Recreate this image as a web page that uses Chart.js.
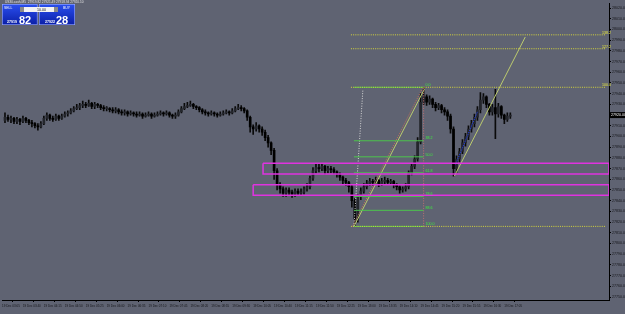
<!DOCTYPE html>
<html lang="en">
<head>
    <meta charset="UTF-8">
    <title>US30.cash, M5</title>
    <script src="https://cdn.jsdelivr.net/npm/chart.js"></script>
    <style>
        html, body { margin: 0; padding: 0; background: #5f6372; }
        body { width: 625px; height: 314px; overflow: hidden; }
        canvas { display: block; }
    </style>
</head>
<body>
<canvas id="chart" width="625" height="314"></canvas>
<script>
// ---- price data (M5 candles, index 1..170) ----
const opens = [27915,27918,27916,27917,27914,27916,27914,27917,27915,27913,
    27912,27910,27909,27912,27917,27920,27917,27916,27919,27917,
    27919,27921,27922,27924,27926,27927,27929,27930,27929,27931,
    27928,27930,27929,27927,27926,27926,27925,27924,27925,27923,
    27922,27923,27921,27922,27921,27920,27921,27919,27920,27921,
    27919,27920,27921,27922,27921,27922,27920,27919,27920,27923,
    27926,27928,27929,27930,27928,27927,27925,27923,27922,27921,
    27922,27921,27920,27921,27922,27923,27922,27924,27926,27927,
    27926,27924,27918,27909,27907,27910,27907,27904,27899,27894,
    27887,27868,27855,27851,27847,27850,27848,27846,27849,27847,
    27848,27851,27853,27861,27868,27871,27870,27872,27868,27870,
    27869,27867,27865,27862,27859,27857,27853,27840,27823,27844,
    27849,27853,27856,27858,27857,27859,27856,27858,27859,27857,
    27858,27855,27853,27850,27851,27853,27866,27872,27879,27895,
    27932,27937,27932,27935,27930,27927,27929,27925,27923,27919,
    27907,27870,27879,27886,27894,27900,27907,27912,27918,27925,
    27934,27937,27930,27923,27927,27921,27928,27920,27916,27919];
const closes = [27918,27916,27917,27914,27916,27914,27917,27915,27913,27912,
    27910,27909,27912,27917,27920,27917,27916,27919,27917,27919,
    27921,27922,27924,27926,27927,27929,27930,27929,27931,27928,
    27930,27929,27927,27926,27926,27925,27924,27925,27923,27922,
    27923,27921,27922,27921,27920,27921,27919,27920,27921,27919,
    27920,27921,27922,27921,27922,27920,27919,27920,27923,27926,
    27928,27929,27930,27928,27927,27925,27923,27922,27921,27922,
    27921,27920,27921,27922,27923,27922,27924,27926,27927,27926,
    27924,27918,27909,27907,27910,27907,27904,27899,27894,27887,
    27868,27855,27851,27847,27850,27848,27846,27849,27847,27848,
    27851,27853,27861,27868,27871,27870,27872,27868,27870,27869,
    27867,27865,27862,27859,27857,27853,27840,27823,27844,27849,
    27853,27856,27858,27857,27859,27856,27858,27859,27857,27858,
    27855,27853,27850,27851,27853,27866,27872,27879,27895,27932,
    27937,27932,27935,27930,27927,27929,27925,27923,27919,27907,
    27870,27879,27886,27894,27900,27907,27912,27918,27925,27934,
    27937,27930,27923,27927,27921,27928,27920,27916,27919,27920];
const highs = [27922,27920,27919,27918,27918,27917,27919,27918,27916,27915,
    27913,27912,27914,27919,27922,27921,27919,27921,27920,27921,
    27923,27924,27926,27928,27930,27931,27933,27932,27934,27932,
    27932,27931,27930,27929,27928,27927,27927,27927,27926,27925,
    27925,27924,27924,27923,27923,27923,27922,27922,27923,27922,
    27922,27923,27924,27923,27924,27923,27921,27922,27925,27928,
    27931,27932,27933,27931,27929,27928,27926,27925,27923,27924,
    27923,27922,27923,27924,27925,27924,27926,27928,27930,27929,
    27927,27925,27919,27911,27913,27911,27909,27906,27901,27895,
    27889,27870,27857,27853,27852,27852,27850,27851,27851,27851,
    27853,27856,27863,27871,27875,27874,27875,27873,27872,27872,
    27871,27868,27866,27863,27861,27858,27855,27842,27846,27852,
    27856,27859,27861,27860,27862,27860,27861,27862,27861,27860,
    27859,27856,27854,27853,27856,27868,27875,27882,27899,27940,
    27946,27939,27938,27936,27932,27931,27930,27927,27925,27921,
    27909,27882,27889,27897,27903,27910,27915,27921,27928,27941,
    27940,27938,27931,27930,27944,27931,27929,27921,27922,27922];
const lows = [27913,27914,27913,27912,27912,27911,27913,27913,27911,27909,
    27908,27906,27908,27911,27915,27915,27914,27915,27915,27916,
    27918,27919,27921,27923,27925,27925,27927,27927,27928,27926,
    27926,27927,27925,27924,27924,27923,27922,27922,27921,27920,
    27920,27919,27920,27919,27918,27919,27917,27918,27919,27917,
    27918,27919,27920,27919,27920,27918,27917,27917,27919,27922,
    27925,27927,27928,27926,27925,27923,27921,27920,27919,27920,
    27919,27918,27919,27920,27921,27920,27921,27923,27925,27924,
    27922,27915,27904,27902,27905,27904,27901,27896,27890,27883,
    27860,27850,27847,27844,27844,27845,27843,27844,27845,27845,
    27846,27849,27851,27859,27866,27867,27868,27865,27866,27866,
    27865,27862,27859,27856,27854,27848,27834,27816,27820,27841,
    27847,27851,27854,27854,27855,27853,27854,27856,27855,27855,
    27852,27850,27847,27848,27849,27851,27864,27870,27877,27893,
    27930,27929,27930,27927,27924,27925,27922,27920,27915,27903,
    27863,27866,27876,27884,27891,27897,27904,27909,27915,27922,
    27931,27927,27920,27920,27898,27918,27917,27912,27914,27917];

// ---- axis labels ----
const timeLabels = ['19 Dec 03:05','19 Dec 03:40','19 Dec 04:15','19 Dec 04:50','19 Dec 05:25',
    '19 Dec 06:00','19 Dec 06:35','19 Dec 07:10','19 Dec 07:45','19 Dec 08:20',
    '19 Dec 08:55','19 Dec 09:30','19 Dec 10:05','19 Dec 10:40','19 Dec 11:15',
    '19 Dec 11:50','19 Dec 12:25','19 Dec 13:00','19 Dec 13:35','19 Dec 14:10',
    '19 Dec 14:45','19 Dec 15:20','19 Dec 15:55','19 Dec 16:30','19 Dec 17:05'];
const priceTicks = [27750,27760,27770,27780,27790,27800,27810,27820,27830,27840,
    27850,27860,27870,27880,27890,27900,27910,27920,27930,27940,
    27950,27960,27970,27980,27990,28000,28010,28020];

// ---- drawn objects ----
const fiboPrices = [27946, 27896, 27881, 27866, 27844, 27831, 27816];
const fiboLabels = ['0.0', '38.2', '50.0', '61.8', '78.6', '88.6', '100.0'];
const fiboSpan = [117.7, 141];
const expansionPrices = [27995, 27982, 27946, 27816];
const expansionLabels = ['138.2', '127.2', '100.0', ''];
const expansionSpan = [116.7, 202];
const zoneStarts = [87.3, 84];
const zoneTops = [27875, 27855];
const zoneBottoms = [27865, 27845];
const channelA = [[117.7, 27816], [141.3, 27944.5]];
const channelB = [[151.3, 27863], [175, 27993]];
const fiboTrend = [[117.7, 27816], [120.7, 27944]];
const expTrend = [[117.2, 27816], [140.6, 27945]];
const fiboVertical = [[141, 27816], [141, 27946]];
const blueTrend = [[151.7, 27874], [159, 27923]];

const BG = '#5f6372';
const pts = arr => arr.map(p => ({ x: p[0], y: p[1] }));
const idx = opens.map((_, i) => i + 1);

function lineSet(data, color, dash, width) {
    return { type: 'line', data: data, borderColor: color, borderWidth: width || 1,
        borderDash: dash || [], pointRadius: 0, fill: false, order: 1 };
}

const datasets = [
    { type: 'bar', data: idx.map(i => ({ x: i, y: [lows[i - 1], highs[i - 1]] })),
      backgroundColor: '#0a0a0a', barThickness: 1, grouped: false, order: 3 },
    { type: 'bar', data: idx.map(i => ({ x: i, y: [opens[i - 1], closes[i - 1]] })),
      backgroundColor: idx.map(i => closes[i - 1] >= opens[i - 1] ? '#24262c' : '#000'),
      barThickness: 2, grouped: false, order: 2, borderSkipped: false, minBarLength: 1 }
];

zoneStarts.forEach((x0, k) => {
    datasets.push(lineSet(pts([[x0, zoneTops[k]], [203, zoneTops[k]], [203, zoneBottoms[k]],
        [x0, zoneBottoms[k]], [x0, zoneTops[k]]]), '#e033e0', [], 1.5));
});
expansionPrices.forEach(p => {
    datasets.push(lineSet(pts([[expansionSpan[0], p], [expansionSpan[1], p]]), '#d6d63c', [1, 1.2]));
});
fiboPrices.forEach(p => {
    datasets.push(lineSet(pts([[fiboSpan[0], p], [fiboSpan[1], p]]), '#4cc44c'));
});
datasets.push(lineSet(pts(fiboTrend), '#d8d8d8', [1, 1.5]));
datasets.push(lineSet(pts(fiboVertical), '#c07070', [1, 1.5]));
datasets.push(lineSet(pts(expTrend), '#c0705a', [1, 1.2]));
datasets.push(lineSet(pts(channelA), '#bccb6e'));
datasets.push(lineSet(pts(channelB), '#bccb6e'));
datasets.push(lineSet(pts(blueTrend), '#2040ff', [1, 1]));

const overlay = {
    id: 'overlay',
    afterDatasetsDraw(chart) {
        const { ctx, scales: { x, y } } = chart;
        ctx.save();
        ctx.font = '3.6px "Liberation Sans"';
        ctx.textBaseline = 'bottom';
        // fibo level labels
        ctx.fillStyle = '#3ef03e';
        ctx.textAlign = 'left';
        fiboPrices.forEach((p, k) => {
            ctx.fillText(fiboLabels[k], x.getPixelForValue(fiboSpan[1]) + 2, y.getPixelForValue(p) - 0.5);
        });
        // expansion labels
        ctx.fillStyle = '#e8e840';
        ctx.textAlign = 'right';
        expansionPrices.forEach((p, k) => {
            ctx.fillText(expansionLabels[k], x.getPixelForValue(expansionSpan[1]) + 5, y.getPixelForValue(p) - 0.3);
        });
        ctx.restore();
    },
    afterDraw(chart) {
        const { ctx, scales: { y } } = chart;
        ctx.save();
        // current price box on the axis
        const last = closes[closes.length - 1];
        const py = y.getPixelForValue(last);
        ctx.fillStyle = '#000';
        ctx.fillRect(609, py - 3, 16, 6);
        ctx.fillStyle = '#fff';
        ctx.font = '3.6px "Liberation Sans"';
        ctx.textBaseline = 'middle';
        ctx.fillText(last.toFixed(2), 611, py);

        // title line
        ctx.fillStyle = '#e4e4e4';
        ctx.font = '3.2px "Liberation Sans"';
        ctx.textBaseline = 'top';
        ctx.fillText('US30.cash,M5  27919.82 27921.49 27918.94 27920.10', 5, 0.5);

        // one-click trading panel
        const box = (x0, w) => {
            const g = ctx.createLinearGradient(0, 4, 0, 25);
            g.addColorStop(0, '#2a4ff0');
            g.addColorStop(1, '#0b1fa6');
            ctx.fillStyle = g;
            ctx.fillRect(x0, 4, w, 21);
            ctx.strokeStyle = '#9fb0ff';
            ctx.lineWidth = 0.6;
            ctx.strokeRect(x0 + 0.3, 4.3, w - 0.6, 20.4);
        };
        box(2, 35.5);
        box(39, 36);
        ctx.fillStyle = '#f2f2f2';
        ctx.fillRect(20, 7, 38, 5);
        ctx.fillStyle = '#8a8a8a';
        ctx.fillRect(20, 7, 4, 5);
        ctx.fillRect(54, 7, 4, 5);
        ctx.fillStyle = '#111';
        ctx.font = '3.6px "Liberation Sans"';
        ctx.textBaseline = 'middle';
        ctx.fillText('10.00', 37, 9.6);
        ctx.fillStyle = '#fff';
        ctx.font = '3.4px "Liberation Sans"';
        ctx.fillText('SELL', 4, 8.5);
        ctx.fillText('BUY', 63, 8.5);
        ctx.font = 'bold 3.6px "Liberation Sans"';
        ctx.textBaseline = 'alphabetic';
        ctx.fillText('27919', 7, 22.5);
        ctx.fillText('27922', 45, 22.5);
        ctx.font = 'bold 11px "Liberation Sans"';
        ctx.fillText('82', 19, 24);
        ctx.fillText('28', 56, 24);
        ctx.restore();
    }
};

new Chart(document.getElementById('chart'), {
    type: 'bar',
    data: { datasets: datasets },
    options: {
        responsive: false,
        animation: false,
        devicePixelRatio: 1,
        layout: { padding: 0 },
        plugins: { legend: { display: false }, tooltip: { enabled: false } },
        scales: {
            x: {
                type: 'linear', min: 0, max: 203, offset: false,
                grid: { display: true, drawOnChartArea: false, tickLength: 2, color: '#000' },
                border: { color: '#000' },
                afterBuildTicks: s => { s.ticks = timeLabels.map((_, k) => ({ value: k * 7 })); },
                afterFit: s => { s.height = 14; },
                ticks: {
                    autoSkip: false, maxRotation: 0, align: 'start', padding: 2,
                    color: '#15161a', font: { family: 'Liberation Sans', size: 3 },
                    callback: (v, i) => timeLabels[i]
                }
            },
            y: {
                position: 'right', min: 27747.2, max: 28024.6,
                grid: { display: true, drawOnChartArea: false, tickLength: 2, color: '#000' },
                border: { color: '#000' },
                afterBuildTicks: s => { s.ticks = priceTicks.map(v => ({ value: v })); },
                afterFit: s => { s.width = 16; },
                ticks: {
                    padding: 1, color: '#15161a', font: { family: 'Liberation Sans', size: 3.6 },
                    callback: v => v.toFixed(2)
                }
            }
        }
    },
    plugins: [overlay]
});
</script>
</body>
</html>
